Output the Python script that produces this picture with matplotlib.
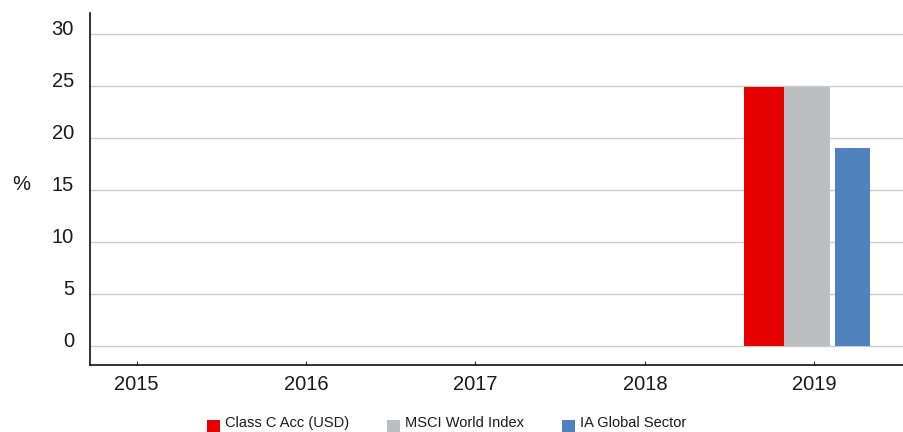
import numpy as np
import matplotlib
matplotlib.use('Agg')
import matplotlib.pyplot as plt
from matplotlib.transforms import ScaledTranslation

plt.rcParams['font.family'] = ['Liberation Sans', 'DejaVu Sans']

# data
years = ['2015', '2016', '2017', '2018', '2019']
class_c = [np.nan, np.nan, np.nan, np.nan, 24.9]
msci_world = [np.nan, np.nan, np.nan, np.nan, 24.9]
ia_global = [np.nan, np.nan, np.nan, np.nan, 19.0]
series_names = ['Class C Acc (USD)', 'MSCI World Index', 'IA Global Sector']
yticks = [0, 5, 10, 15, 20, 25, 30]

# bar styles (offset, width, colour)
styles = [(-0.298, 0.234, '#E60000'),
          (-0.045, 0.272, '#BDBEC2'),
          (0.2255, 0.205, '#4F81BD')]

fig = plt.figure(figsize=(9.04, 4.32), dpi=100)
ax = fig.add_axes([90/904, 67/432, 814/904, 352/432])

x = np.arange(len(years))
handles = []
for vals, (off, w, col), name in zip([class_c, msci_world, ia_global], styles, series_names):
    b = ax.bar(x + off, vals, width=w, color=col, label=name, zorder=3)
    handles.append(b)

ax.set_xlim(-0.276, 4.53)
ax.set_ylim(-1.84, 32.0)
ax.set_yticks(yticks)
ax.set_xticks(x)
ax.set_xticklabels(years)
ax.yaxis.grid(True, color='#CCCCCC', linewidth=1.0, zorder=0)
ax.set_axisbelow(True)

for s in ['top', 'right']:
    ax.spines[s].set_visible(False)
for s in ['left', 'bottom']:
    ax.spines[s].set_color('#111111')
    ax.spines[s].set_linewidth(1.2)

ax.tick_params(axis='y', length=0, pad=11.5, labelsize=14.5, labelcolor='#1a1a1a')
ax.tick_params(axis='x', direction='in', length=3, width=0.8, color='#333333',
               pad=7.5, labelsize=14.5, labelcolor='#1a1a1a')

# nudge y labels up a little, like the original
for lab in ax.get_yticklabels():
    lab.set_transform(lab.get_transform() + ScaledTranslation(0, 6/100, fig.dpi_scale_trans))

ax.set_ylabel('%', rotation=0, fontsize=14.5, color='#1a1a1a')
ax.yaxis.set_label_coords(-0.084, 0.486)

leg = fig.legend(handles=handles, labels=series_names, loc='center',
                 bbox_to_anchor=(0.494, 0.022), ncol=3, frameon=False,
                 fontsize=10.5, handlelength=0.9, handleheight=0.9,
                 handletextpad=0.35, columnspacing=2.6, labelcolor='#1a1a1a')
# squares sit a bit low in the original legend
for h in leg.legend_handles:
    h.set_y(h.get_y() - 3)

fig.savefig('out.png', dpi=100)
